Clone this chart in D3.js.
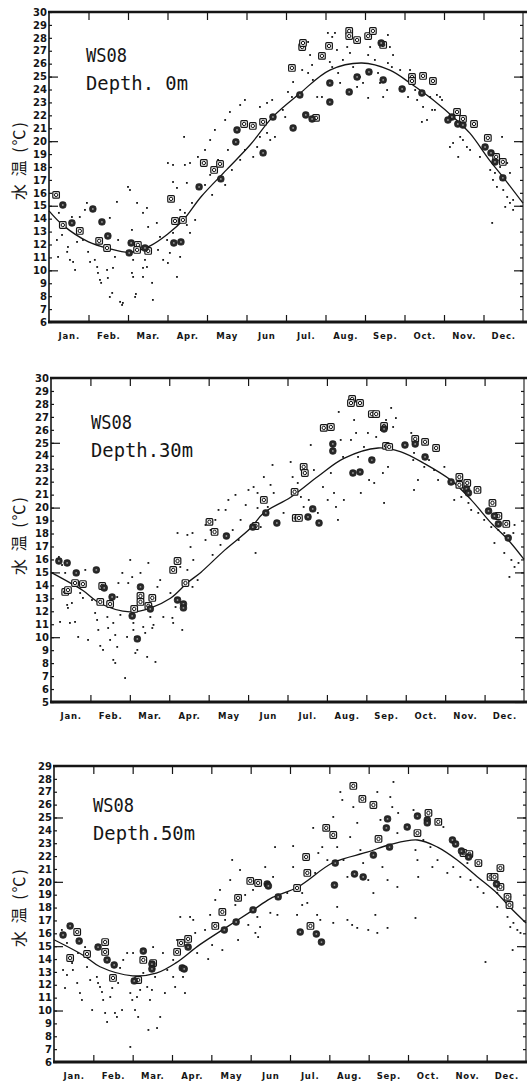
<!DOCTYPE html>
<html>
<head>
<meta charset="utf-8">
<script src="https://cdn.jsdelivr.net/npm/d3@7"></script>
<style>
  html, body { margin: 0; padding: 0; background: #fff; }
  svg { display: block; }
</style>
</head>
<body>
<div id="chart"></div>
<script>
// month labels (x axis, month 0 = 1 Jan, 12 = 31 Dec)
const months = ["Jan.", "Feb.", "Mar.", "Apr.", "May", "Jun", "Jul.", "Aug.", "Sep.", "Oct.", "Nov.", "Dec."]

// ---------- Depth 0m ----------
const curve0 = [[0,14.6],[0.35,13.5],[1,12.2],[1.5,11.7],[2.05,11.4],[2.56,11.9],[3,12.8],[3.4,13.9],[3.85,15.7],[4.5,17.8],[5.09,19.7],[5.67,21.9],[6.35,23.7],[7.11,25.5],[7.92,26.05],[8.63,25.5],[9.14,24.5],[9.72,23.2],[10.33,21.6],[10.66,20.6],[11.16,18.5],[11.5,17.2],[12,15.2]]
const dots0 = [[0.25,14.45],[0.33,12.74],[0.2,12.35],[0.23,11.04],[0.46,11.43],[0.53,10.81],[0.61,10.65],[0.66,10.03],[0.48,11.81],[0.71,12.2],[0.86,12.35],[0.91,14.68],[0.96,15.22],[0.78,14.13],[0.58,14.13],[0.99,11.43],[1.04,10.65],[1.16,10.81],[1.22,10.26],[1.24,9.8],[1.29,9.26],[1.32,9.03],[1.47,10.03],[1.49,9.41],[1.62,10.19],[1.67,11.04],[1.54,14.06],[1.72,15.3],[1.75,12.35],[1.6,8.25],[1.54,7.94],[1.8,7.56],[1.85,7.32],[2.0,16.46],[2.05,16.22],[2.23,15.22],[2.1,13.13],[2.13,10.81],[2.1,9.8],[2.13,9.49],[2.18,7.94],[2.2,8.17],[1.87,7.48],[2.38,14.45],[2.48,14.83],[2.51,13.36],[2.43,10.81],[2.38,10.19],[2.48,10.26],[2.38,9.49],[2.61,9.03],[2.63,7.71],[2.73,13.67],[2.81,12.59],[2.76,11.58],[2.89,10.81],[2.99,12.35],[3.06,11.35],[3.01,10.57],[3.14,16.84],[3.24,16.38],[3.32,14.68],[3.44,14.45],[3.49,13.51],[3.57,12.9],[3.62,15.22],[3.7,13.9],[3.24,9.49],[3.49,16.77],[3.14,12.9],[3.32,11.04],[3.42,20.33],[3.14,18.16],[3.01,18.31],[3.44,18.16],[3.57,18.31],[3.77,18.78],[3.95,19.32],[4.08,20.09],[4.2,20.87],[4.46,21.64],[4.58,22.26],[4.84,22.8],[4.96,23.19],[4.71,20.09],[4.53,19.32],[4.28,18.55],[4.08,17.39],[3.95,16.61],[4.84,18.55],[4.96,19.32],[4.46,16.61],[4.63,17.77],[4.13,15.84],[5.27,19.55],[5.17,18.78],[5.34,20.33],[5.52,20.64],[5.6,20.09],[5.72,20.33],[5.65,23.19],[5.52,22.96],[5.34,22.65],[5.92,22.42],[5.98,21.87],[6.05,23.81],[6.15,23.42],[6.18,24.58],[6.41,25.51],[6.56,25.28],[6.66,25.9],[6.68,24.74],[6.79,23.42],[6.56,27.68],[6.61,26.67],[6.91,23.42],[7.06,28.38],[7.17,28.07],[7.24,28.38],[7.29,27.06],[7.11,26.13],[7.17,25.74],[7.32,25.28],[7.37,24.51],[7.44,26.29],[7.55,27.29],[7.62,26.83],[7.7,25.74],[7.8,24.2],[7.87,24.97],[7.95,24.51],[8.08,23.35],[8.08,26.67],[8.13,27.29],[8.25,26.29],[8.33,25.28],[8.38,24.51],[8.46,23.42],[8.56,23.96],[8.58,26.05],[8.63,27.29],[8.71,26.67],[8.58,28.22],[8.68,25.74],[8.89,25.51],[9.14,25.51],[9.27,23.96],[9.09,23.42],[9.32,23.19],[9.47,22.65],[9.65,23.42],[9.82,23.58],[9.95,23.19],[9.7,22.42],[9.44,21.49],[9.57,21.64],[9.77,22.42],[9.9,23.42],[10.15,19.55],[10.41,20.33],[10.23,19.86],[10.48,20.09],[10.58,19.55],[10.36,18.78],[10.66,19.32],[10.91,18.78],[11.17,17.77],[11.29,17.54],[11.42,18.0],[11.6,18.31],[11.47,20.33],[11.67,17.54],[11.24,17.0],[11.34,16.46],[11.5,16.22],[11.6,15.68],[11.67,15.22],[11.75,14.68],[11.55,14.91],[11.75,15.45],[11.22,13.67]]
const squares0 = [[0.18,15.84],[0.35,13.51],[0.78,13.05],[1.27,12.28],[1.47,11.73],[2.25,11.97],[2.23,11.58],[2.51,11.5],[3.09,15.53],[3.19,13.82],[3.39,13.9],[3.92,18.31],[4.18,17.77],[4.33,18.24],[4.94,21.33],[5.16,21.18],[5.42,21.49],[6.76,21.8],[6.15,25.67],[6.41,27.29],[6.43,27.6],[6.91,26.6],[7.09,27.37],[7.6,28.53],[7.6,28.14],[7.8,27.83],[8.08,28.14],[8.2,28.53],[8.46,27.45],[9.19,24.97],[9.19,24.66],[9.47,25.05],[9.72,24.66],[10.33,22.26],[10.48,21.72],[10.76,21.33],[11.11,20.25],[11.32,18.78],[11.49,18.39]]
const filled0 = [[0.35,15.06],[0.58,13.67],[1.11,14.75],[1.34,13.75],[1.49,12.66],[2.03,11.35],[2.08,12.12],[2.43,11.73],[3.16,12.12],[3.34,12.2],[3.8,16.46],[4.35,17.08],[4.73,19.94],[4.76,20.87],[5.67,21.87],[5.42,19.09],[6.18,21.02],[6.35,23.58],[6.5,22.03],[6.66,21.72],[7.11,24.5],[7.11,23.03],[7.6,23.81],[7.8,24.97],[8.1,25.36],[8.41,27.6],[8.46,24.74],[8.94,24.04],[9.44,23.73],[10.2,21.87],[10.1,21.64],[10.35,21.33],[10.48,21.25],[11.04,19.55],[11.19,19.09],[11.29,18.39],[11.49,17.16]]

// ---------- Depth 30m ----------
const curve30 = [[0,15.0],[0.81,13.6],[1.25,12.6],[2.0,11.95],[2.52,12.25],[3.03,13.0],[3.46,14.2],[3.8,15.0],[4.4,16.7],[5.06,18.4],[5.4,19.6],[6.08,20.8],[6.77,22.4],[7.43,23.8],[8.3,24.6],[8.88,24.3],[9.47,23.4],[10.15,22.1],[10.66,20.6],[11.17,18.8],[11.6,17.5],[12,16.0]]
const dots30 = [[0.2,16.19],[0.28,15.57],[0.23,11.18],[0.36,14.96],[0.41,12.49],[0.43,12.26],[0.53,12.64],[0.48,11.1],[0.61,11.18],[0.69,10.02],[0.74,13.41],[0.81,13.03],[0.94,9.79],[0.87,15.19],[1.04,12.87],[1.12,11.87],[1.17,11.33],[1.2,10.56],[1.25,9.33],[1.32,9.02],[1.43,11.56],[1.45,10.71],[1.5,9.79],[1.58,11.1],[1.63,10.17],[1.68,9.25],[1.68,13.1],[1.58,8.25],[1.63,8.01],[1.71,14.18],[1.76,11.72],[1.81,14.96],[1.96,14.18],[1.88,6.85],[1.93,10.02],[2.01,15.96],[2.06,14.64],[2.09,11.1],[2.09,10.56],[2.14,10.02],[2.14,8.78],[2.19,9.02],[2.27,14.96],[2.34,10.79],[2.39,10.33],[2.44,8.48],[2.47,15.73],[2.52,11.56],[2.57,10.71],[2.6,10.95],[2.65,8.09],[2.7,13.88],[2.77,14.41],[2.85,11.56],[3.03,13.41],[3.08,11.49],[3.1,11.1],[3.16,12.33],[3.33,10.56],[3.28,15.42],[3.46,15.19],[3.54,16.96],[3.59,13.88],[3.61,15.96],[3.72,14.41],[3.21,18.04],[3.46,17.89],[3.59,18.04],[3.92,17.5],[4.05,18.27],[4.17,19.05],[4.3,17.12],[4.43,19.82],[4.5,20.59],[4.68,20.98],[4.81,19.05],[4.61,18.27],[4.94,20.2],[4.1,16.35],[4.25,19.82],[4.76,17.5],[5.01,21.36],[3.92,18.66],[5.14,21.59],[5.24,21.13],[5.4,22.36],[5.57,21.75],[5.65,21.13],[5.24,19.97],[5.5,20.05],[5.62,23.29],[5.32,18.5],[5.9,19.59],[6.08,23.52],[6.13,22.36],[6.26,21.9],[6.34,20.82],[6.41,20.05],[6.54,20.59],[6.59,24.83],[6.67,22.9],[6.77,19.59],[6.9,21.59],[7.02,20.59],[7.1,22.67],[7.18,21.13],[7.23,20.05],[7.3,27.38],[7.35,25.22],[7.41,23.91],[7.28,19.05],[7.43,20.59],[7.61,25.22],[7.69,26.76],[7.74,25.76],[7.79,23.91],[7.86,21.13],[7.94,24.68],[8.04,25.76],[8.07,22.13],[8.2,21.9],[8.25,25.45],[8.37,25.99],[8.42,22.67],[8.5,26.76],[8.55,23.14],[8.63,27.69],[8.68,26.22],[8.75,26.91],[8.45,20.36],[9.14,25.76],[9.21,24.22],[9.31,22.13],[9.19,23.67],[9.47,23.14],[9.59,23.67],[9.72,22.9],[9.21,21.36],[9.82,22.13],[9.98,23.14],[10.15,22.13],[10.23,20.59],[10.41,20.82],[10.59,20.36],[10.66,19.82],[10.84,19.59],[10.99,19.05],[11.17,18.5],[11.35,18.27],[11.5,18.04],[11.73,18.04],[11.76,18.66],[11.25,17.27],[11.5,16.5],[11.68,15.96],[11.86,15.73],[11.76,15.42],[11.63,14.65],[5.19,16.5]]
const squares30 = [[0.36,13.49],[0.43,13.64],[0.61,14.18],[0.81,14.1],[1.25,12.72],[1.3,13.95],[1.5,12.56],[2.11,12.18],[2.27,13.18],[2.27,12.72],[2.47,12.41],[2.57,13.03],[3.1,15.19],[3.21,15.88],[3.41,14.18],[4.02,18.9],[4.15,18.12],[5.4,20.59],[5.19,18.58],[6.18,21.21],[6.41,23.14],[6.44,22.67],[6.21,19.2],[6.29,19.2],[6.92,26.15],[7.1,26.22],[7.64,28.38],[7.61,28.07],[7.84,28.07],[8.14,27.22],[8.25,27.22],[8.45,26.3],[8.5,24.76],[8.58,24.68],[9.24,25.3],[9.49,25.07],[9.77,24.6],[10.36,22.36],[10.36,21.75],[10.56,21.9],[10.82,21.36],[11.2,20.36],[11.35,19.35],[11.55,18.74]]
const filled30 = [[0.2,15.88],[0.41,15.73],[0.64,14.96],[1.15,15.19],[1.35,13.8],[1.55,13.1],[2.06,11.64],[2.27,13.88],[2.52,12.18],[2.19,9.87],[3.21,12.87],[3.36,12.56],[3.36,12.26],[4.45,17.81],[5.45,19.59],[5.12,18.5],[5.73,18.81],[6.52,19.28],[6.64,19.9],[6.8,18.81],[7.15,24.91],[7.15,24.37],[7.66,22.67],[7.84,22.75],[8.14,23.67],[8.45,26.07],[8.98,24.83],[9.24,24.91],[9.49,23.91],[10.15,21.98],[10.54,21.44],[10.59,21.13],[11.1,19.74],[11.25,19.35],[11.35,18.74],[11.6,17.66]]

// ---------- Depth 50m ----------
const curve50 = [[0,15.5],[0.74,14.3],[1.17,13.4],[2.0,12.7],[2.6,12.9],[3.1,13.7],[3.7,15.1],[4.4,16.5],[5.06,17.8],[5.5,18.7],[6.2,19.6],[7.1,21.5],[7.96,22.3],[8.55,22.9],[9.24,23.25],[9.75,22.7],[10.25,21.7],[10.76,20.4],[11.27,19.1],[11.6,18.0],[12,16.8]]
const dots50 = [[0.2,16.26],[0.33,15.25],[0.23,13.15],[0.33,12.76],[0.28,11.75],[0.46,13.69],[0.48,13.15],[0.59,12.14],[0.66,11.36],[0.71,10.82],[0.61,14.47],[0.79,14.93],[0.84,13.38],[0.92,12.37],[0.97,10.04],[1.09,12.61],[1.12,12.14],[1.17,11.83],[1.22,11.44],[1.25,10.82],[1.3,9.81],[1.35,9.11],[1.43,11.05],[1.48,11.75],[1.55,9.81],[1.6,9.5],[1.63,12.14],[1.68,13.31],[1.73,10.04],[1.76,13.93],[1.86,14.47],[1.94,7.17],[1.94,11.36],[1.99,10.82],[2.01,14.47],[2.06,10.04],[2.11,11.05],[2.14,9.5],[2.19,11.6],[2.27,12.92],[2.37,11.83],[2.4,8.49],[2.44,10.82],[2.49,11.6],[2.52,14.93],[2.57,12.61],[2.62,8.64],[2.7,9.5],[2.77,14.47],[2.82,11.36],[2.88,13.15],[3.03,13.93],[3.03,12.61],[3.08,11.83],[3.13,15.48],[3.21,17.27],[3.28,12.61],[3.33,11.36],[3.46,17.27],[3.54,17.04],[3.59,16.03],[3.64,14.47],[3.84,16.26],[3.97,17.43],[4.1,18.59],[4.22,19.37],[4.35,17.04],[4.48,20.14],[4.61,18.2],[4.73,20.92],[4.86,18.98],[4.94,16.65],[4.02,15.09],[4.28,14.7],[4.68,15.48],[3.92,14.0],[4.53,21.7],[5.06,19.37],[5.37,21.15],[5.57,20.38],[5.62,22.7],[5.93,19.13],[6.08,21.15],[6.08,22.78],[6.31,19.13],[6.59,24.19],[6.64,20.69],[6.72,22.24],[6.82,22.7],[6.95,21.69],[7.1,25.04],[7.2,22.7],[7.28,26.98],[7.33,26.36],[7.36,21.69],[7.46,20.38],[7.53,23.48],[7.61,25.81],[7.71,24.58],[7.79,22.47],[7.86,21.46],[7.99,20.14],[8.12,19.13],[8.22,26.98],[8.3,24.81],[8.35,21.15],[8.48,20.14],[8.55,26.59],[8.6,25.81],[8.63,27.76],[8.73,23.79],[8.73,19.6],[8.75,25.35],[9.14,25.58],[9.19,22.47],[9.24,21.69],[9.26,20.38],[9.39,23.25],[9.57,22.7],[9.62,21.15],[9.75,21.69],[9.9,24.26],[10.0,20.69],[10.15,21.15],[10.33,20.38],[10.51,21.46],[10.59,20.14],[10.77,19.6],[10.92,19.13],[11.27,19.13],[11.6,18.83],[5.17,17.27],[5.24,16.49],[5.12,16.03],[5.19,15.71],[5.5,17.59],[5.68,17.43],[6.18,17.43],[6.31,18.2],[6.44,18.36],[6.69,17.43],[6.77,17.04],[7.1,16.81],[7.2,18.05],[7.46,17.04],[7.58,16.65],[7.71,16.42],[7.99,16.26],[8.17,17.43],[8.22,16.03],[8.48,16.42],[9.19,17.19],[10.97,13.77],[11.66,14.7],[11.27,18.05],[11.53,17.27],[11.68,16.81],[11.78,16.26],[11.86,16.03],[11.6,16.49]]
const squares50 = [[0.41,14.08],[0.59,16.1],[0.84,14.39],[1.3,15.32],[1.3,14.55],[1.5,12.53],[2.14,12.37],[2.27,13.93],[2.52,13.69],[3.13,14.55],[3.23,15.25],[3.41,15.56],[4.1,16.57],[4.28,17.66],[4.68,18.75],[4.99,20.07],[5.19,19.91],[6.18,19.52],[6.41,21.93],[6.44,20.69],[6.92,24.19],[7.1,23.64],[7.61,27.45],[7.84,26.44],[8.12,25.97],[8.25,23.33],[9.52,25.35],[9.77,24.66],[9.24,23.79],[10.41,22.24],[10.56,22.16],[10.79,21.46],[11.35,21.07],[11.1,20.38],[11.2,20.38],[11.35,19.6],[11.53,18.83],[6.52,16.57],[11.58,18.2]]
const filled50 = [[0.23,15.87],[0.41,16.57],[0.64,15.4],[1.12,14.93],[1.35,13.93],[1.53,13.54],[2.04,12.3],[2.27,14.62],[2.49,13.61],[2.49,13.23],[3.26,13.31],[3.31,13.23],[3.41,14.93],[4.33,16.26],[4.63,16.88],[5.42,19.83],[5.45,19.68],[5.7,18.83],[7.15,21.46],[7.13,19.75],[7.64,20.61],[7.86,20.38],[8.12,22.08],[8.45,24.19],[8.48,24.89],[8.53,22.7],[8.98,24.26],[9.24,25.11],[9.49,24.81],[9.49,24.58],[10.13,23.25],[10.21,22.94],[10.36,22.39],[10.54,21.93],[11.25,19.83],[5.06,17.82],[6.26,16.1],[6.67,15.95],[6.8,15.32]]

const W = 527, H = 1086

const svg = d3.select("#chart").append("svg")
    .attr("width", W)
    .attr("height", H)

// panel layout, built from the arrays above
const panels = [
    { depth: "Depth. 0m", curve: curve0, dots: dots0, squares: squares0, filled: filled0,
      left: 49, right: 523, top: 12, bottom: 322, yMin: 6, yMax: 30, titleX: 86, titleY: 62, labelY: 160 },
    { depth: "Depth.30m", curve: curve30, dots: dots30, squares: squares30, filled: filled30,
      left: 51, right: 524, top: 378, bottom: 702, yMin: 5, yMax: 30, titleX: 91, titleY: 429, labelY: 535 },
    { depth: "Depth.50m", curve: curve50, dots: dots50, squares: squares50, filled: filled50,
      left: 54, right: 526, top: 766, bottom: 1062, yMin: 6, yMax: 29, titleX: 93, titleY: 812, labelY: 907 }
]

const ink = "#151515"
const tickFont = "'DejaVu Sans', sans-serif"

function styleAxis(a) {
    a.select(".domain").remove()
    a.selectAll("line").attr("stroke", ink).attr("stroke-width", 1.2)
    a.selectAll("text")
        .attr("fill", ink)
        .attr("font-family", tickFont)
        .attr("font-weight", "bold")
}

function drawPanel(p) {
    const x = d3.scaleLinear().domain([0, 12]).range([p.left, p.right])
    const y = d3.scaleLinear().domain([p.yMin, p.yMax]).range([p.bottom, p.top])
    const g = svg.append("g")

    // left axis: a label and a short inner tick for every degree
    g.append("g")
        .attr("transform", "translate(" + p.left + ",0)")
        .call(d3.axisLeft(y).tickValues(d3.range(p.yMin, p.yMax + 1)).tickSize(-3).tickPadding(2).tickFormat(d3.format("d")))
        .call(styleAxis)
        .selectAll("text").attr("font-size", 10)
    // longer ticks every 5 degrees
    g.append("g")
        .attr("transform", "translate(" + p.left + ",0)")
        .call(d3.axisLeft(y).tickValues(d3.range(Math.ceil(p.yMin / 5) * 5, p.yMax, 5)).tickSize(-9).tickFormat(""))
        .call(styleAxis)

    // right axis ticks
    g.append("g")
        .attr("transform", "translate(" + p.right + ",0)")
        .call(d3.axisRight(y).tickValues(d3.range(p.yMin + 1, p.yMax)).tickSize(-3).tickFormat(""))
        .call(styleAxis)
    g.append("g")
        .attr("transform", "translate(" + p.right + ",0)")
        .call(d3.axisRight(y).tickValues(d3.range(Math.ceil(p.yMin / 5) * 5, p.yMax, 5)).tickSize(-9).tickFormat(""))
        .call(styleAxis)

    // month ticks, top and bottom
    g.append("g")
        .attr("transform", "translate(0," + p.top + ")")
        .call(d3.axisTop(x).tickValues(d3.range(1, 12)).tickSize(-8).tickFormat(""))
        .call(styleAxis)
    g.append("g")
        .attr("transform", "translate(0," + p.bottom + ")")
        .call(d3.axisBottom(x).tickValues(d3.range(1, 12)).tickSize(-7).tickFormat(""))
        .call(styleAxis)
    // month names centred in each month
    g.append("g")
        .attr("transform", "translate(0," + p.bottom + ")")
        .call(d3.axisBottom(x).tickValues(d3.range(0.5, 12, 1)).tickSize(0).tickPadding(11).tickFormat((d, i) => months[i]))
        .call(styleAxis)
        .selectAll("text").attr("font-size", 8.5).attr("letter-spacing", 0.8)

    // frame
    g.append("line").attr("x1", p.left).attr("x2", p.left).attr("y1", p.top).attr("y2", p.bottom)
        .attr("stroke", ink).attr("stroke-width", 1.6)
    g.append("line").attr("x1", p.right).attr("x2", p.right).attr("y1", p.top).attr("y2", p.bottom)
        .attr("stroke", ink).attr("stroke-width", 1.1)
    g.append("line").attr("x1", p.left - 1).attr("x2", W).attr("y1", p.top).attr("y2", p.top)
        .attr("stroke", ink).attr("stroke-width", 2.6)
    g.append("line").attr("x1", p.left - 1).attr("x2", W).attr("y1", p.bottom).attr("y2", p.bottom)
        .attr("stroke", ink).attr("stroke-width", 3.2)

    // y axis title
    g.append("text")
        .attr("transform", "translate(21," + p.labelY + ") rotate(-90)")
        .attr("text-anchor", "middle")
        .attr("dominant-baseline", "middle")
        .attr("font-family", "'Noto Sans CJK JP', sans-serif")
        .attr("font-size", 16)
        .attr("letter-spacing", 2)
        .attr("fill", ink)
        .text("水 温 (℃)")

    // station and depth
    g.append("text")
        .attr("x", p.titleX).attr("y", p.titleY)
        .attr("font-family", "'DejaVu Sans Mono', monospace")
        .attr("font-size", 20)
        .attr("textLength", 41).attr("lengthAdjust", "spacingAndGlyphs")
        .attr("fill", ink)
        .text("WS08")
    g.append("text")
        .attr("x", p.titleX).attr("y", p.titleY + 28)
        .attr("font-family", "'DejaVu Sans Mono', monospace")
        .attr("font-size", 20)
        .attr("textLength", 102).attr("lengthAdjust", "spacingAndGlyphs")
        .attr("fill", ink)
        .text(p.depth)

    // small dots
    g.append("g").selectAll("rect")
        .data(p.dots)
        .join("rect")
        .attr("x", d => x(d[0]) - 0.9)
        .attr("y", d => y(d[1]) - 0.9)
        .attr("width", 1.8)
        .attr("height", 1.8)
        .attr("fill", ink)

    // fitted curve
    const line = d3.line()
        .x(d => x(d[0]))
        .y(d => y(d[1]))
        .curve(d3.curveCatmullRom)
    g.append("path")
        .datum(p.curve)
        .attr("d", line)
        .attr("fill", "none")
        .attr("stroke", ink)
        .attr("stroke-width", 1.3)

    // open squares with a ring inside
    const sq = g.append("g").selectAll("g")
        .data(p.squares)
        .join("g")
        .attr("transform", d => "translate(" + x(d[0]) + "," + y(d[1]) + ")")
    sq.append("rect")
        .attr("x", -3.3).attr("y", -3.3).attr("width", 6.6).attr("height", 6.6).attr("rx", 1)
        .attr("fill", "#fff").attr("stroke", ink).attr("stroke-width", 1.2)
    sq.append("circle")
        .attr("r", 1.7)
        .attr("fill", "none").attr("stroke", ink).attr("stroke-width", 1)

    // dark markers
    const fm = g.append("g").selectAll("g")
        .data(p.filled)
        .join("g")
        .attr("transform", d => "translate(" + x(d[0]) + "," + y(d[1]) + ")")
    fm.append("rect")
        .attr("x", -3.2).attr("y", -3.2).attr("width", 6.4).attr("height", 6.4).attr("rx", 2.4)
        .attr("fill", "#2a2a2a").attr("stroke", ink).attr("stroke-width", 0.8)
    fm.append("circle")
        .attr("r", 0.9)
        .attr("fill", "#9a9a9a")
}

panels.forEach(drawPanel)
</script>
</body>
</html>
